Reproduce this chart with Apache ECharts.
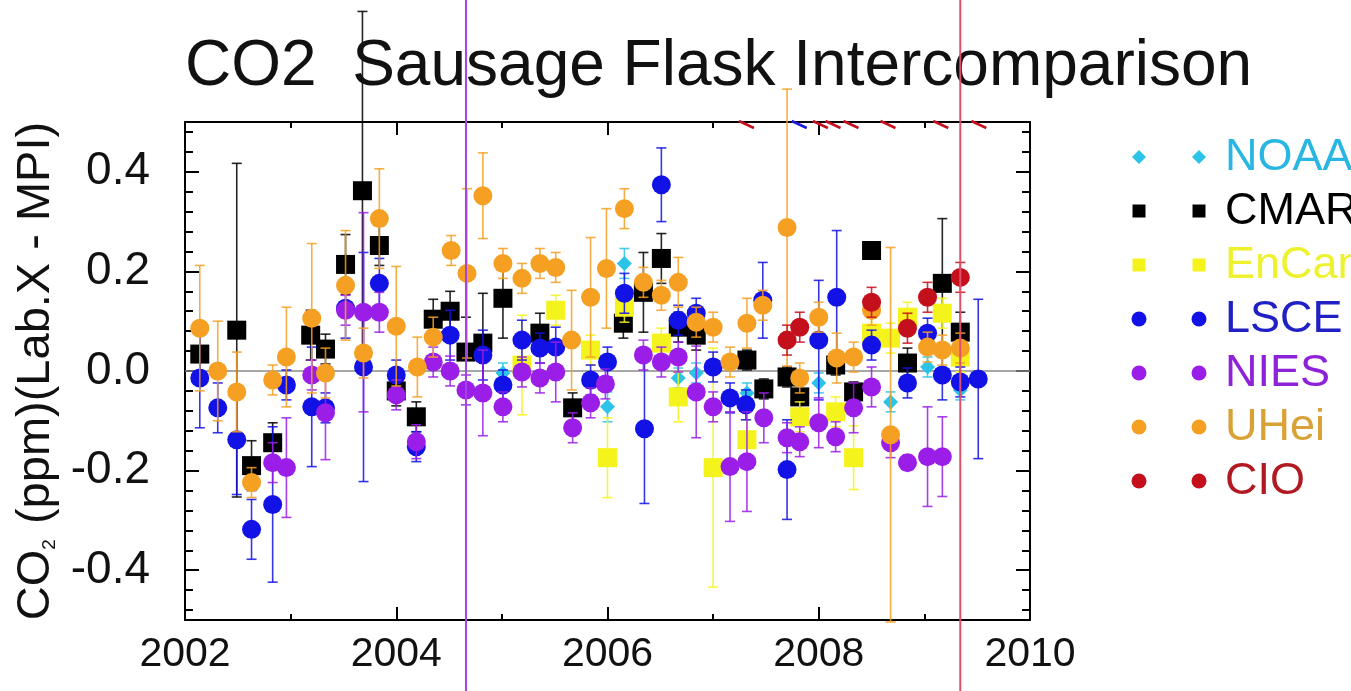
<!DOCTYPE html>
<html>
<head>
<meta charset="utf-8">
<script src="https://cdn.jsdelivr.net/npm/echarts@6/dist/echarts.min.js"></script>
<style>
  html, body { margin: 0; padding: 0; background: #ffffff; }
  #chart { width: 1351px; height: 691px; }
</style>
</head>
<body>
<div id="chart"></div>
<script>
// Each record: [decimal year, CO2 difference Lab.X - MPI (ppm), error (ppm)]
const noaa = [
  [2005.01, -0.004, 0.02], [2006.00, -0.072, 0.03], [2006.16, 0.216, 0.03], [2006.67, -0.014, 0.02],
  [2006.84, -0.004, 0.02], [2007.32, -0.044, 0.02], [2008.00, -0.024, 0.02], [2008.68, -0.062, 0.02],
  [2009.03, 0.008, 0.02], [2009.34, -0.038, 0.02]
];
const cmar = [
  [2002.14, 0.034, 0.05], [2002.49, 0.082, 0.335], [2002.63, -0.190, 0.05], [2002.83, -0.144, 0.04],
  [2003.19, 0.072, 0.05], [2003.33, 0.044, 0.03], [2003.52, 0.214, 0.06], [2003.68, 0.362, 0.36],
  [2003.84, 0.252, 0.04], [2004.00, -0.040, 0.03], [2004.19, -0.092, 0.03], [2004.35, 0.104, 0.04],
  [2004.51, 0.120, 0.04], [2004.66, 0.038, 0.07], [2004.82, 0.056, 0.10], [2005.01, 0.146, 0.08],
  [2005.36, 0.076, 0.04], [2005.67, -0.074, 0.03], [2006.15, 0.096, 0.03], [2006.34, 0.158, 0.08],
  [2006.51, 0.226, 0.05], [2006.67, 0.088, 0.03], [2006.84, 0.072, 0.03], [2007.32, 0.022, 0.02],
  [2007.48, -0.036, 0.02], [2007.70, -0.012, 0.02], [2007.82, -0.052, 0.03], [2008.16, 0.012, 0.02],
  [2008.33, -0.042, 0.02], [2008.50, 0.242, 0.01], [2008.84, 0.016, 0.03], [2009.17, 0.176, 0.13],
  [2009.34, 0.078, 0.04]
];
const encan = [
  [2005.19, 0.012, 0.10], [2005.51, 0.122, 0.03], [2005.84, 0.042, 0.03], [2006.00, -0.174, 0.08],
  [2006.16, 0.128, 0.03], [2006.51, 0.056, 0.03], [2006.67, -0.052, 0.05], [2007.00, -0.194, 0.24],
  [2007.32, -0.138, 0.04], [2007.82, -0.092, 0.03], [2008.16, -0.082, 0.03], [2008.33, -0.174, 0.064],
  [2008.50, 0.076, 0.03], [2008.68, 0.066, 0.03], [2008.84, 0.108, 0.03], [2009.17, 0.116, 0.03],
  [2009.34, 0.028, 0.03]
];
const lsce = [
  [2002.14, -0.014, 0.10], [2002.31, -0.074, 0.05], [2002.49, -0.138, 0.11], [2002.63, -0.318, 0.06],
  [2002.83, -0.268, 0.156], [2002.96, -0.028, 0.03], [2003.20, -0.072, 0.12], [2003.33, -0.074, 0.03],
  [2003.52, 0.126, 0.06], [2003.69, 0.008, 0.23], [2003.84, 0.176, 0.05], [2004.00, -0.008, 0.03],
  [2004.19, -0.152, 0.03], [2004.51, 0.072, 0.05], [2004.82, 0.032, 0.05], [2005.01, -0.028, 0.03],
  [2005.19, 0.062, 0.04], [2005.36, 0.046, 0.03], [2005.51, 0.048, 0.04], [2005.84, -0.018, 0.03],
  [2006.00, 0.018, 0.03], [2006.16, 0.156, 0.04], [2006.35, -0.116, 0.15], [2006.51, 0.374, 0.074],
  [2006.67, 0.102, 0.03], [2006.84, 0.116, 0.03], [2007.00, 0.008, 0.03], [2007.16, -0.054, 0.03],
  [2007.31, -0.068, 0.03], [2007.47, 0.142, 0.076], [2007.70, -0.198, 0.10], [2008.00, 0.062, 0.12],
  [2008.17, 0.148, 0.134], [2008.50, 0.052, 0.03], [2008.84, -0.024, 0.03], [2009.03, 0.076, 0.03],
  [2009.17, -0.008, 0.05], [2009.34, -0.022, 0.03], [2009.51, -0.016, 0.16]
];
const nies = [
  [2002.83, -0.184, 0.04], [2002.96, -0.194, 0.10], [2003.20, -0.008, 0.03], [2003.33, -0.084, 0.094],
  [2003.52, 0.122, 0.03], [2003.69, 0.118, 0.20], [2003.84, 0.118, 0.04], [2004.00, -0.048, 0.03],
  [2004.19, -0.142, 0.034], [2004.35, 0.018, 0.03], [2004.51, 0.000, 0.03], [2004.66, -0.038, 0.03],
  [2004.82, -0.044, 0.086], [2005.01, -0.072, 0.03], [2005.19, -0.002, 0.03], [2005.36, -0.014, 0.03],
  [2005.51, -0.002, 0.06], [2005.67, -0.114, 0.03], [2005.84, -0.064, 0.03], [2005.98, -0.026, 0.03],
  [2006.34, 0.032, 0.03], [2006.51, 0.018, 0.03], [2006.67, 0.028, 0.03], [2006.84, -0.042, 0.092],
  [2007.00, -0.072, 0.03], [2007.16, -0.192, 0.11], [2007.32, -0.182, 0.10], [2007.48, -0.094, 0.05],
  [2007.70, -0.134, 0.03], [2007.82, -0.142, 0.03], [2008.00, -0.104, 0.05], [2008.16, -0.132, 0.03],
  [2008.33, -0.074, 0.05], [2008.50, -0.032, 0.04], [2008.68, -0.144, 0.03], [2008.84, -0.184, 0.015],
  [2009.03, -0.172, 0.10], [2009.17, -0.172, 0.08]
];
const uhei = [
  [2002.14, 0.086, 0.126], [2002.31, 0.000, 0.10], [2002.49, -0.042, 0.08], [2002.63, -0.224, 0.03],
  [2002.83, -0.018, 0.03], [2002.96, 0.028, 0.10], [2003.20, 0.106, 0.15], [2003.33, -0.004, 0.05],
  [2003.52, 0.172, 0.11], [2003.69, 0.036, 0.05], [2003.84, 0.306, 0.10], [2004.00, 0.090, 0.12],
  [2004.20, 0.008, 0.06], [2004.35, 0.068, 0.04], [2004.52, 0.242, 0.03], [2004.67, 0.196, 0.17],
  [2004.82, 0.352, 0.086], [2005.01, 0.216, 0.03], [2005.19, 0.186, 0.03], [2005.36, 0.216, 0.03],
  [2005.51, 0.208, 0.03], [2005.66, 0.062, 0.10], [2005.84, 0.148, 0.12], [2005.99, 0.206, 0.12],
  [2006.16, 0.326, 0.04], [2006.34, 0.178, 0.03], [2006.51, 0.152, 0.03], [2006.67, 0.178, 0.05],
  [2006.84, 0.098, 0.03], [2007.00, 0.088, 0.03], [2007.16, 0.018, 0.03], [2007.32, 0.096, 0.05],
  [2007.47, 0.132, 0.03], [2007.70, 0.288, 0.278], [2007.82, -0.014, 0.03], [2008.00, 0.108, 0.03],
  [2008.17, 0.026, 0.05], [2008.33, 0.028, 0.03], [2008.50, 0.122, 0.03], [2008.68, -0.128, 0.376],
  [2009.03, 0.048, 0.03], [2009.17, 0.042, 0.03], [2009.34, 0.046, 0.03]
];
const cio = [
  [2007.70, 0.062, 0.03], [2007.82, 0.088, 0.03], [2008.50, 0.138, 0.03], [2008.84, 0.086, 0.03],
  [2009.03, 0.148, 0.03], [2009.34, 0.188, 0.03]
];
// Points falling above the plotted range, flagged on the top axis
const offScaleRed = [2007.32, 2008.02, 2008.14, 2008.31, 2008.66, 2009.16, 2009.52];
const offScaleBlue = [2007.82];
// Period boundaries marked by vertical lines
const boundaryYears = [2004.66, 2009.34];

const labNames = ['NOAA', 'CMAR', 'EnCan', 'LSCE', 'NIES', 'UHei', 'CIO'];
const yMajorTicks = [-0.4, -0.2, 0.0, 0.2, 0.4];
const yMinorTicks = [-0.48, -0.44, -0.36, -0.32, -0.28, -0.24, -0.16, -0.12, -0.08, -0.04,
                     0.04, 0.08, 0.12, 0.16, 0.24, 0.28, 0.32, 0.36, 0.44, 0.48];

const FONT = '"Liberation Sans", Arial, Helvetica, sans-serif';

const labStyle = {
  NOAA:  { color: '#2cc3e8', text: '#2ab6e2', symbol: 'diamond', size: 15, lsize: 12 },
  CMAR:  { color: '#000000', text: '#000000', symbol: 'rect',    size: 19, lsize: 13 },
  EnCan: { color: '#f4f41c', text: '#eef22e', symbol: 'rect',    size: 19, lsize: 13 },
  LSCE:  { color: '#1212e6', text: '#2020c4', symbol: 'circle',  size: 19, lsize: 15 },
  NIES:  { color: '#9a1ee8', text: '#8e22d8', symbol: 'circle',  size: 19, lsize: 15 },
  UHei:  { color: '#f5a023', text: '#d9a236', symbol: 'circle',  size: 19, lsize: 15 },
  CIO:   { color: '#c4101c', text: '#b01a22', symbol: 'circle',  size: 19, lsize: 15 }
};
const labData = { NOAA: noaa, CMAR: cmar, EnCan: encan, LSCE: lsce, NIES: nies, UHei: uhei, CIO: cio };

const chart = echarts.init(document.getElementById('chart'), null, { renderer: 'canvas' });

function errorBarSeries(name, color, z) {
  return {
    name: name + ' error',
    type: 'custom',
    clip: false,
    z: z,
    silent: true,
    data: labData[name],
    encode: { x: 0, y: 1 },
    renderItem: function (params, api) {
      const x = api.value(0), v = api.value(1), e = api.value(2);
      const top = api.coord([x, v + e]);
      const bot = api.coord([x, v - e]);
      const hw = 5;
      const style = { stroke: color, lineWidth: 1.6, opacity: 0.85 };
      return {
        type: 'group',
        children: [
          { type: 'line', shape: { x1: top[0], y1: top[1], x2: bot[0], y2: bot[1] }, style: style },
          { type: 'line', shape: { x1: top[0] - hw, y1: top[1], x2: top[0] + hw, y2: top[1] }, style: style },
          { type: 'line', shape: { x1: bot[0] - hw, y1: bot[1], x2: bot[0] + hw, y2: bot[1] }, style: style }
        ]
      };
    }
  };
}

function offScaleSeries(name, years, color) {
  return {
    name: name,
    type: 'custom',
    clip: false,
    z: 30,
    silent: true,
    data: years.map(function (t) { return [t, 0.5]; }),
    renderItem: function (params, api) {
      const p = api.coord([api.value(0), api.value(1)]);
      return {
        type: 'polyline',
        shape: { points: [[p[0] - 8, p[1] - 1], [p[0] + 7, p[1] + 6]] },
        style: { stroke: color, lineWidth: 2.5, fill: null }
      };
    }
  };
}

const series = [];
series.push({
  name: 'zero',
  type: 'line',
  data: [[2002, 0], [2010, 0]],
  symbol: 'none',
  lineStyle: { color: '#8a8a8a', width: 1.5 },
  z: 1,
  silent: true
});
labNames.forEach(function (name, i) {
  const st = labStyle[name];
  series.push(errorBarSeries(name, st.color, 3 + i * 2));
  series.push({
    name: name,
    type: 'scatter',
    data: labData[name].map(function (d) { return [d[0], d[1]]; }),
    symbol: st.symbol,
    symbolSize: st.size,
    itemStyle: { color: st.color, opacity: 1 },
    z: 4 + i * 2,
    silent: true
  });
});
series.push(offScaleSeries('above range (CIO)', offScaleRed, '#c4101c'));
series.push(offScaleSeries('above range (LSCE)', offScaleBlue, '#1a1ae0'));

const axisLineStyle = { color: '#000', width: 2 };

function xAxisDef(position, showLabel) {
  return {
    type: 'value',
    position: position,
    min: 2002, max: 2010, interval: 2,
    axisLine: { show: true, onZero: false, lineStyle: axisLineStyle },
    axisTick: { show: true, inside: true, length: 13, lineStyle: { color: '#000', width: 2 } },
    minorTick: { show: true, splitNumber: 2, length: 6, lineStyle: { color: '#000', width: 2 } },
    axisLabel: {
      show: showLabel, fontSize: 41, fontFamily: FONT, color: '#111', margin: 14,
      formatter: function (v) { return String(v); }
    },
    splitLine: { show: false },
    minorSplitLine: { show: false }
  };
}

function yAxisDef(position, ticks, len, showLabel, showLine) {
  return {
    type: 'value',
    position: position,
    min: -0.5, max: 0.5,
    axisLine: { show: showLine, onZero: false, lineStyle: axisLineStyle },
    axisTick: { show: true, inside: true, length: len, customValues: ticks, lineStyle: { color: '#000', width: 2 } },
    axisLabel: {
      show: showLabel, customValues: yMajorTicks, fontSize: 46, fontFamily: FONT, color: '#111', margin: 35,
      formatter: function (v) { return v.toFixed(1); }
    },
    splitLine: { show: false }
  };
}

const yLeft = yAxisDef('left', yMajorTicks, 14, true, true);
yLeft.name = '{a|CO}{s|2}{a| (ppm)(Lab.X - MPI)}';
yLeft.nameLocation = 'middle';
yLeft.nameRotate = 90;
yLeft.nameGap = 124;
yLeft.nameTextStyle = {
  fontFamily: FONT, color: '#111',
  rich: {
    a: { fontSize: 47, fontFamily: FONT, color: '#111' },
    s: { fontSize: 19, fontFamily: FONT, color: '#111', padding: [26, 2, 0, 0] }
  }
};

const option = {
  backgroundColor: '#ffffff',
  animation: false,
  title: {
    text: 'CO2  Sausage Flask Intercomparison',
    left: 180, top: 30,
    textStyle: { fontSize: 64, fontWeight: 'normal', fontFamily: FONT, color: '#111' }
  },
  grid: { left: 185, right: 321, top: 122, bottom: 71, containLabel: false },
  xAxis: [xAxisDef('bottom', true), xAxisDef('top', false)],
  yAxis: [
    yLeft,
    yAxisDef('left', yMinorTicks, 8, false, false),
    yAxisDef('right', yMajorTicks, 14, false, true),
    yAxisDef('right', yMinorTicks, 8, false, false)
  ],
  series: series
};
chart.setOption(option);

// Legend: two sample symbols followed by the lab name in its colour
const legendRows = [157, 211, 265, 319, 373, 427, 481];
const legendGraphics = [];
function legendSymbol(kind, cx, cy, s, color) {
  if (kind === 'circle') {
    return { type: 'circle', shape: { cx: cx, cy: cy, r: s / 2 }, style: { fill: color } };
  }
  if (kind === 'rect') {
    return { type: 'rect', shape: { x: cx - s / 2, y: cy - s / 2, width: s, height: s }, style: { fill: color } };
  }
  const h = s / 2 + 1;
  return { type: 'polygon', shape: { points: [[cx, cy - h], [cx + h, cy], [cx, cy + h], [cx - h, cy]] }, style: { fill: color } };
}
labNames.forEach(function (name, i) {
  const st = labStyle[name];
  const cy = legendRows[i];
  legendGraphics.push(legendSymbol(st.symbol, 1139, cy, st.lsize, st.color));
  legendGraphics.push(legendSymbol(st.symbol, 1199, cy, st.lsize, st.color));
  legendGraphics.push({
    type: 'text', x: 1225, y: cy + 1,
    style: { text: name, fill: st.text, font: '45px ' + FONT, textVerticalAlign: 'middle', verticalAlign: 'middle' }
  });
});

// Vertical period boundaries spanning the full figure height
const boundaryColors = ['#a444e6', '#e0506a'];
boundaryYears.forEach(function (t, i) {
  const px = chart.convertToPixel({ xAxisIndex: 0 }, t);
  legendGraphics.push({
    type: 'line', z: 50,
    shape: { x1: px, y1: 0, x2: px, y2: 691 },
    style: { stroke: boundaryColors[i], lineWidth: 2 }
  });
});

chart.setOption({ graphic: legendGraphics });
</script>
</body>
</html>
